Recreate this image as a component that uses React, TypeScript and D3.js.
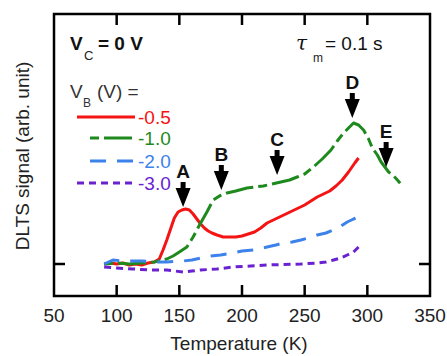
import React from 'react';
import * as d3 from 'd3';

// temperature (K) and DLTS signal (arb. unit) for each bias
const redT = [90, 95, 100, 105, 110, 115, 120, 125, 130, 134, 137, 140, 143, 146, 149, 152, 155, 158, 161, 164, 167, 170, 173, 176, 180, 185, 190, 195, 200, 205, 210, 215, 220, 225, 230, 235, 240, 245, 250, 255, 260, 265, 270, 275, 280, 285, 290, 293];
const redV = [0, 0.1, 0, 0.1, -0.1, 0, -0.1, 0.1, 0.2, 0.5, 1.4, 2.4, 3.5, 4.6, 5.2, 5.4, 5.5, 5.4, 5.0, 4.5, 4.0, 3.6, 3.3, 3.1, 2.9, 2.7, 2.7, 2.7, 2.8, 3.0, 3.2, 3.6, 4.1, 4.4, 4.7, 5.0, 5.3, 5.6, 5.9, 6.3, 6.7, 7.0, 7.3, 7.8, 8.4, 9.2, 10.1, 10.6];

const greenT = [90, 100, 110, 120, 130, 140, 145, 150, 156, 161, 167, 172, 177, 182, 188, 195, 204, 210, 217, 224, 231, 238, 244, 250, 257, 264, 271, 276, 281, 285, 289, 293, 297, 301, 304, 308, 311, 314, 317, 321, 324, 328];
const greenV = [0, 0.1, 0, 0.1, 0.2, 0.5, 0.8, 1.2, 1.7, 2.7, 4.1, 5.2, 6.4, 6.8, 7.1, 7.3, 7.6, 7.7, 7.8, 8.0, 8.2, 8.4, 8.7, 9.0, 9.7, 10.5, 11.4, 12.3, 13.1, 13.6, 14.1, 13.9, 13.4, 12.5, 11.6, 10.9, 10.2, 9.7, 9.2, 8.8, 8.4, 7.8];

const blueT = [90, 97, 105, 113, 120, 130, 140, 153, 160, 167, 175, 183, 193, 200, 209, 220, 227, 233, 240, 247, 253, 260, 267, 273, 279, 284, 289, 293];
const blueV = [0, 0.4, 0.3, 0.3, 0.3, 0.2, 0.2, 0.3, 0.4, 0.6, 0.8, 0.9, 1.1, 1.3, 1.4, 1.7, 1.9, 2.1, 2.2, 2.4, 2.6, 2.9, 3.1, 3.4, 3.8, 4.2, 4.5, 4.7];

const purpleT = [90, 100, 113, 127, 140, 153, 160, 167, 180, 193, 207, 220, 233, 247, 260, 267, 273, 279, 284, 289, 293];
const purpleV = [-0.3, -0.4, -0.5, -0.6, -0.6, -0.8, -0.7, -0.6, -0.5, -0.3, -0.2, -0.1, -0.05, 0, 0.1, 0.2, 0.4, 0.6, 0.9, 1.2, 1.7];

const biasLabels = ['-0.5', '-1.0', '-2.0', '-3.0'];

// peak markers
const peakLabels = ['A', 'B', 'C', 'D', 'E'];
const peakT = [153, 183.5, 228, 288, 315];
const peakTip = [5.7, 7.4, 8.9, 14.6, 9.7];

const xTicks = [50, 100, 150, 200, 250, 300, 350];

const font = '"Liberation Sans", Arial, sans-serif';

export default function App() {
  const W = 447, H = 356;
  const left = 54, right = 430, top = 14, bottom = 296;

  const x = d3.scaleLinear().domain([50, 350]).range([left, right]);
  const y = d3.scaleLinear().domain([-3.2, 25]).range([bottom, top]);

  const line = d3.line<[number, number]>()
    .x(d => x(d[0]))
    .y(d => y(d[1]));

  const series = [
    { T: redT, V: redV, color: '#f41414', dash: undefined as string | undefined, lx0: 77 },
    { T: greenT, V: greenV, color: '#1e8a1e', dash: '9,5,28,5', lx0: 90 },
    { T: blueT, V: blueV, color: '#3d82ea', dash: '16,11', lx0: 90 },
    { T: purpleT, V: purpleV, color: '#6a22d0', dash: '7,5', lx0: 77 },
  ];

  const legendY = [117, 138, 161, 183];

  // arrow pointing down, tip at (tx, ty)
  const arrow = (tx: number, ty: number) => {
    const len = 25, hw = 7.5, head = 19, sw = 2.5;
    return `M${tx - sw},${ty - len} L${tx + sw},${ty - len} L${tx + sw},${ty - head} L${tx + hw},${ty - head} L${tx},${ty} L${tx - hw},${ty - head} L${tx - sw},${ty - head} Z`;
  };

  return (
    <div style={{ position: 'absolute', left: 0, top: 0 }}>
      <svg width={W} height={H} style={{ display: 'block', fontFamily: font }}>
        <rect width={W} height={H} fill="#fff" />
        {series.map((s, i) => (
          <path
            key={i}
            d={line(s.T.map((t, j) => [t, s.V[j]] as [number, number])) || ''}
            fill="none"
            stroke={s.color}
            strokeWidth={3}
            strokeDasharray={s.dash}
            strokeLinejoin="round"
          />
        ))}

        {/* frame and ticks */}
        <rect x={left} y={top} width={right - left} height={bottom - top} fill="none" stroke="#000" strokeWidth={2.5} />
        {xTicks.slice(1, -1).map(t => (
          <g key={t}>
            <line x1={x(t)} x2={x(t)} y1={bottom} y2={bottom - 11} stroke="#000" strokeWidth={2.5} />
            <line x1={x(t)} x2={x(t)} y1={top} y2={top + 11} stroke="#000" strokeWidth={2.5} />
          </g>
        ))}
        <line x1={left} x2={left + 11} y1={y(0)} y2={y(0)} stroke="#000" strokeWidth={2.5} />
        <line x1={right} x2={right - 11} y1={y(0)} y2={y(0)} stroke="#000" strokeWidth={2.5} />

        {xTicks.map(t => (
          <text key={t} x={x(t)} y={321.5} textAnchor="middle" fontSize={19} fill="#222">{t}</text>
        ))}
        <text x={(left + right) / 2 - 3} y={350} textAnchor="middle" fontSize={19} fill="#222">Temperature (K)</text>
        <text transform={`translate(29,156) rotate(-90)`} textAnchor="middle" fontSize={19} fill="#222">DLTS signal (arb. unit)</text>

        {/* annotations */}
        <text x={70} y={50} fontSize={19} fontWeight="bold" fill="#111">V</text>
        <text x={84} y={60} fontSize={13} fill="#222">C</text>
        <text x={98} y={50} fontSize={19} fontWeight="bold" fill="#111">= 0 V</text>
        <text x={296} y={50} fontSize={20} fontStyle="italic" fontFamily="'DejaVu Serif', serif" fill="#111">τ</text>
        <text x={313} y={62} fontSize={12} fill="#222">m</text>
        <text x={325} y={50} fontSize={19} fill="#111">= 0.1 s</text>

        {/* legend */}
        <text x={70} y={98} fontSize={19} fill="#333">V</text>
        <text x={83} y={107} fontSize={12} fill="#333">B</text>
        <text x={97} y={98} fontSize={19} fill="#333">(V) =</text>
        {series.map((s, i) => (
          <g key={i}>
            <line x1={s.lx0} x2={135} y1={legendY[i]} y2={legendY[i]} stroke={s.color} strokeWidth={3} strokeDasharray={s.dash} />
            <text x={138} y={legendY[i] + 7} fontSize={19} fill={s.color}>{biasLabels[i]}</text>
          </g>
        ))}

        {/* peak arrows */}
        {peakLabels.map((p, i) => {
          const tx = x(peakT[i]);
          const ty = y(peakTip[i]);
          return (
            <g key={p}>
              <path d={arrow(tx, ty)} fill="#000" />
              <text x={tx} y={ty - 29} textAnchor="middle" fontSize={19} fontWeight="bold" fill="#111">{p}</text>
            </g>
          );
        })}
      </svg>
    </div>
  );
}
